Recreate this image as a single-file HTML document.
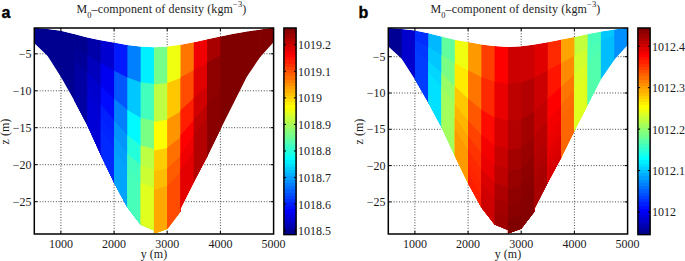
<!DOCTYPE html>
<html><head><meta charset="utf-8"><title>M0-component of density</title>
<style>
html,body{margin:0;padding:0;background:#fff;}
body{width:685px;height:261px;overflow:hidden;}
svg{display:block;}
.t{font-family:"Liberation Serif","Times New Roman",serif;font-size:12px;fill:#1c1c1c;}
.b{font-family:"Liberation Sans",Arial,sans-serif;font-weight:bold;font-size:16px;fill:#000;stroke:#000;stroke-width:0.35px;}
</style></head><body>
<svg width="685" height="261" viewBox="0 0 685 261">
<defs><linearGradient id="jet" x1="0" y1="1" x2="0" y2="0"><stop offset="0.00000" stop-color="#00008f"/><stop offset="0.01562" stop-color="#00008f"/><stop offset="0.01562" stop-color="#00009f"/><stop offset="0.03125" stop-color="#00009f"/><stop offset="0.03125" stop-color="#0000af"/><stop offset="0.04688" stop-color="#0000af"/><stop offset="0.04688" stop-color="#0000bf"/><stop offset="0.06250" stop-color="#0000bf"/><stop offset="0.06250" stop-color="#0000cf"/><stop offset="0.07812" stop-color="#0000cf"/><stop offset="0.07812" stop-color="#0000df"/><stop offset="0.09375" stop-color="#0000df"/><stop offset="0.09375" stop-color="#0000ef"/><stop offset="0.10938" stop-color="#0000ef"/><stop offset="0.10938" stop-color="#0000ff"/><stop offset="0.12500" stop-color="#0000ff"/><stop offset="0.12500" stop-color="#0010ff"/><stop offset="0.14062" stop-color="#0010ff"/><stop offset="0.14062" stop-color="#0020ff"/><stop offset="0.15625" stop-color="#0020ff"/><stop offset="0.15625" stop-color="#0030ff"/><stop offset="0.17188" stop-color="#0030ff"/><stop offset="0.17188" stop-color="#0040ff"/><stop offset="0.18750" stop-color="#0040ff"/><stop offset="0.18750" stop-color="#0050ff"/><stop offset="0.20312" stop-color="#0050ff"/><stop offset="0.20312" stop-color="#0060ff"/><stop offset="0.21875" stop-color="#0060ff"/><stop offset="0.21875" stop-color="#0070ff"/><stop offset="0.23438" stop-color="#0070ff"/><stop offset="0.23438" stop-color="#0080ff"/><stop offset="0.25000" stop-color="#0080ff"/><stop offset="0.25000" stop-color="#008fff"/><stop offset="0.26562" stop-color="#008fff"/><stop offset="0.26562" stop-color="#009fff"/><stop offset="0.28125" stop-color="#009fff"/><stop offset="0.28125" stop-color="#00afff"/><stop offset="0.29688" stop-color="#00afff"/><stop offset="0.29688" stop-color="#00bfff"/><stop offset="0.31250" stop-color="#00bfff"/><stop offset="0.31250" stop-color="#00cfff"/><stop offset="0.32812" stop-color="#00cfff"/><stop offset="0.32812" stop-color="#00dfff"/><stop offset="0.34375" stop-color="#00dfff"/><stop offset="0.34375" stop-color="#00efff"/><stop offset="0.35938" stop-color="#00efff"/><stop offset="0.35938" stop-color="#00ffff"/><stop offset="0.37500" stop-color="#00ffff"/><stop offset="0.37500" stop-color="#10ffef"/><stop offset="0.39062" stop-color="#10ffef"/><stop offset="0.39062" stop-color="#20ffdf"/><stop offset="0.40625" stop-color="#20ffdf"/><stop offset="0.40625" stop-color="#30ffcf"/><stop offset="0.42188" stop-color="#30ffcf"/><stop offset="0.42188" stop-color="#40ffbf"/><stop offset="0.43750" stop-color="#40ffbf"/><stop offset="0.43750" stop-color="#50ffaf"/><stop offset="0.45312" stop-color="#50ffaf"/><stop offset="0.45312" stop-color="#60ff9f"/><stop offset="0.46875" stop-color="#60ff9f"/><stop offset="0.46875" stop-color="#70ff8f"/><stop offset="0.48438" stop-color="#70ff8f"/><stop offset="0.48438" stop-color="#80ff80"/><stop offset="0.50000" stop-color="#80ff80"/><stop offset="0.50000" stop-color="#8fff70"/><stop offset="0.51562" stop-color="#8fff70"/><stop offset="0.51562" stop-color="#9fff60"/><stop offset="0.53125" stop-color="#9fff60"/><stop offset="0.53125" stop-color="#afff50"/><stop offset="0.54688" stop-color="#afff50"/><stop offset="0.54688" stop-color="#bfff40"/><stop offset="0.56250" stop-color="#bfff40"/><stop offset="0.56250" stop-color="#cfff30"/><stop offset="0.57812" stop-color="#cfff30"/><stop offset="0.57812" stop-color="#dfff20"/><stop offset="0.59375" stop-color="#dfff20"/><stop offset="0.59375" stop-color="#efff10"/><stop offset="0.60938" stop-color="#efff10"/><stop offset="0.60938" stop-color="#ffff00"/><stop offset="0.62500" stop-color="#ffff00"/><stop offset="0.62500" stop-color="#ffef00"/><stop offset="0.64062" stop-color="#ffef00"/><stop offset="0.64062" stop-color="#ffdf00"/><stop offset="0.65625" stop-color="#ffdf00"/><stop offset="0.65625" stop-color="#ffcf00"/><stop offset="0.67188" stop-color="#ffcf00"/><stop offset="0.67188" stop-color="#ffbf00"/><stop offset="0.68750" stop-color="#ffbf00"/><stop offset="0.68750" stop-color="#ffaf00"/><stop offset="0.70312" stop-color="#ffaf00"/><stop offset="0.70312" stop-color="#ff9f00"/><stop offset="0.71875" stop-color="#ff9f00"/><stop offset="0.71875" stop-color="#ff8f00"/><stop offset="0.73438" stop-color="#ff8f00"/><stop offset="0.73438" stop-color="#ff8000"/><stop offset="0.75000" stop-color="#ff8000"/><stop offset="0.75000" stop-color="#ff7000"/><stop offset="0.76562" stop-color="#ff7000"/><stop offset="0.76562" stop-color="#ff6000"/><stop offset="0.78125" stop-color="#ff6000"/><stop offset="0.78125" stop-color="#ff5000"/><stop offset="0.79688" stop-color="#ff5000"/><stop offset="0.79688" stop-color="#ff4000"/><stop offset="0.81250" stop-color="#ff4000"/><stop offset="0.81250" stop-color="#ff3000"/><stop offset="0.82812" stop-color="#ff3000"/><stop offset="0.82812" stop-color="#ff2000"/><stop offset="0.84375" stop-color="#ff2000"/><stop offset="0.84375" stop-color="#ff1000"/><stop offset="0.85938" stop-color="#ff1000"/><stop offset="0.85938" stop-color="#ff0000"/><stop offset="0.87500" stop-color="#ff0000"/><stop offset="0.87500" stop-color="#ef0000"/><stop offset="0.89062" stop-color="#ef0000"/><stop offset="0.89062" stop-color="#df0000"/><stop offset="0.90625" stop-color="#df0000"/><stop offset="0.90625" stop-color="#cf0000"/><stop offset="0.92188" stop-color="#cf0000"/><stop offset="0.92188" stop-color="#bf0000"/><stop offset="0.93750" stop-color="#bf0000"/><stop offset="0.93750" stop-color="#af0000"/><stop offset="0.95312" stop-color="#af0000"/><stop offset="0.95312" stop-color="#9f0000"/><stop offset="0.96875" stop-color="#9f0000"/><stop offset="0.96875" stop-color="#8f0000"/><stop offset="0.98438" stop-color="#8f0000"/><stop offset="0.98438" stop-color="#800000"/><stop offset="1.00000" stop-color="#800000"/></linearGradient></defs>
<rect width="685" height="261" fill="#fff"/>
<g stroke="#111" stroke-width="0.85" stroke-dasharray="0.9 1.8" fill="none"><line x1="60.90" y1="28.0" x2="60.90" y2="234.0"/><line x1="114.10" y1="28.0" x2="114.10" y2="234.0"/><line x1="167.20" y1="28.0" x2="167.20" y2="234.0"/><line x1="220.40" y1="28.0" x2="220.40" y2="234.0"/><line x1="34.3" y1="53.80" x2="273.6" y2="53.80"/><line x1="34.3" y1="90.80" x2="273.6" y2="90.80"/><line x1="34.3" y1="127.70" x2="273.6" y2="127.70"/><line x1="34.3" y1="164.70" x2="273.6" y2="164.70"/><line x1="34.3" y1="201.70" x2="273.6" y2="201.70"/></g>
<g stroke="#111" stroke-width="0.85" stroke-dasharray="0.9 1.8" fill="none"><line x1="414.90" y1="28.0" x2="414.90" y2="234.0"/><line x1="468.10" y1="28.0" x2="468.10" y2="234.0"/><line x1="521.20" y1="28.0" x2="521.20" y2="234.0"/><line x1="574.40" y1="28.0" x2="574.40" y2="234.0"/><line x1="388.3" y1="56.70" x2="627.6" y2="56.70"/><line x1="388.3" y1="93.00" x2="627.6" y2="93.00"/><line x1="388.3" y1="129.30" x2="627.6" y2="129.30"/><line x1="388.3" y1="165.60" x2="627.6" y2="165.60"/><line x1="388.3" y1="201.90" x2="627.6" y2="201.90"/></g>
<clipPath id="ca"><polygon points="34.40,27.80 47.68,29.00 60.97,30.70 74.25,34.00 87.53,37.50 100.81,40.30 114.10,42.60 127.38,45.00 140.66,46.60 153.95,47.30 167.23,46.60 180.51,44.70 193.80,42.20 207.08,39.30 220.36,36.50 233.65,33.70 246.93,31.40 260.21,29.50 273.49,27.60 273.49,42.20 260.21,57.00 260.21,57.00 246.93,76.50 246.93,76.50 233.65,103.00 233.65,103.00 220.36,129.50 220.36,129.50 207.08,156.80 207.08,156.80 193.80,182.00 193.80,182.00 180.51,208.50 180.51,211.50 167.23,229.00 167.23,229.00 153.95,233.80 153.95,230.40 140.66,224.80 140.66,224.80 127.38,207.50 127.38,207.50 114.10,182.80 114.10,182.80 100.81,155.00 100.81,155.00 87.53,125.70 87.53,125.70 74.25,100.50 74.25,100.50 60.97,77.00 60.97,77.00 47.68,56.00 47.68,56.00 34.40,43.30"/></clipPath>
<g clip-path="url(#ca)">
<polygon fill="#000090" points="34.40,27.80 48.38,29.06 48.38,240 34.40,240"/>
<polygon fill="#000090" points="47.68,29.00 61.67,30.79 61.67,240 47.68,240"/>
<polygon fill="#000090" points="60.97,30.70 74.95,34.17 74.95,240 60.97,240"/>
<polygon fill="#000090" points="74.25,34.00 88.23,37.68 88.23,240 74.25,240"/>
<polygon fill="#000099" points="74.25,47.30 88.23,55.55 88.23,240 74.25,240"/>
<polygon fill="#0000a3" points="74.25,60.60 88.23,73.42 88.23,240 74.25,240"/>
<polygon fill="#0000a8" points="87.53,37.50 101.52,40.45 101.52,240 87.53,240"/>
<polygon fill="#0000bd" points="87.53,55.14 101.52,63.67 101.52,240 87.53,240"/>
<polygon fill="#0000cc" points="87.53,72.78 101.52,86.89 101.52,240 87.53,240"/>
<polygon fill="#0000d1" points="87.53,86.45 101.52,104.88 101.52,240 87.53,240"/>
<polygon fill="#0000d6" points="87.53,96.33 101.52,117.88 101.52,240 87.53,240"/>
<polygon fill="#0000d1" points="100.81,40.30 114.80,42.72 114.80,240 100.81,240"/>
<polygon fill="#0000f0" points="100.81,63.24 114.80,71.03 114.80,240 100.81,240"/>
<polygon fill="#000aff" points="100.81,86.18 114.80,99.34 114.80,240 100.81,240"/>
<polygon fill="#001fff" points="100.81,103.96 114.80,121.28 114.80,240 100.81,240"/>
<polygon fill="#0024ff" points="100.81,116.80 114.80,137.13 114.80,240 100.81,240"/>
<polygon fill="#0029ff" points="100.81,128.05 114.80,151.00 114.80,240 100.81,240"/>
<polygon fill="#0019ff" points="114.10,42.60 128.08,45.13 128.08,240 114.10,240"/>
<polygon fill="#0057ff" points="114.10,70.64 128.08,77.86 128.08,240 114.10,240"/>
<polygon fill="#0080ff" points="114.10,98.68 128.08,110.60 128.08,240 114.10,240"/>
<polygon fill="#0094ff" points="114.10,120.41 128.08,135.97 128.08,240 114.10,240"/>
<polygon fill="#009eff" points="114.10,136.11 128.08,154.30 128.08,240 114.10,240"/>
<polygon fill="#00a3ff" points="114.10,149.85 128.08,170.34 128.08,240 114.10,240"/>
<polygon fill="#0080ff" points="127.38,45.00 141.36,46.68 141.36,240 127.38,240"/>
<polygon fill="#00c7ff" points="127.38,77.50 141.36,82.49 141.36,240 127.38,240"/>
<polygon fill="#00faff" points="127.38,110.00 141.36,118.30 141.36,240 127.38,240"/>
<polygon fill="#24ffdb" points="127.38,135.19 141.36,146.04 141.36,240 127.38,240"/>
<polygon fill="#42ffbd" points="127.38,153.39 141.36,166.10 141.36,240 127.38,240"/>
<polygon fill="#47ffb8" points="127.38,169.31 141.36,183.64 141.36,240 127.38,240"/>
<polygon fill="#00f0ff" points="140.66,46.60 154.65,47.34 154.65,240 140.66,240"/>
<polygon fill="#42ffbd" points="140.66,82.24 154.65,84.01 154.65,240 140.66,240"/>
<polygon fill="#7aff85" points="140.66,117.88 154.65,120.68 154.65,240 140.66,240"/>
<polygon fill="#bdff42" points="140.66,145.50 154.65,149.10 154.65,240 140.66,240"/>
<polygon fill="#ccff33" points="140.66,165.46 154.65,169.64 154.65,240 140.66,240"/>
<polygon fill="#e0ff1f" points="140.66,182.92 154.65,187.61 154.65,240 140.66,240"/>
<polygon fill="#75ff8a" points="153.95,47.30 167.93,46.56 167.93,240 153.95,240"/>
<polygon fill="#bdff42" points="153.95,84.60 167.93,83.00 167.93,240 153.95,240"/>
<polygon fill="#ffff00" points="153.95,121.90 167.93,119.44 167.93,240 153.95,240"/>
<polygon fill="#ffcc00" points="153.95,150.81 167.93,147.68 167.93,240 153.95,240"/>
<polygon fill="#ffbd00" points="153.95,171.70 167.93,168.08 167.93,240 153.95,240"/>
<polygon fill="#ffa800" points="153.95,189.97 167.93,185.93 167.93,240 153.95,240"/>
<polygon fill="#f0ff0f" points="167.23,46.60 181.21,44.60 181.21,240 167.23,240"/>
<polygon fill="#ffc700" points="167.23,83.08 181.21,77.80 181.21,240 167.23,240"/>
<polygon fill="#ff9400" points="167.23,119.56 181.21,110.99 181.21,240 167.23,240"/>
<polygon fill="#ff7000" points="167.23,147.83 181.21,136.72 181.21,240 167.23,240"/>
<polygon fill="#ff5c00" points="167.23,168.26 181.21,155.31 181.21,240 167.23,240"/>
<polygon fill="#ff4c00" points="167.23,186.14 181.21,171.57 181.21,240 167.23,240"/>
<polygon fill="#ff7500" points="180.51,44.70 194.50,42.07 194.50,240 180.51,240"/>
<polygon fill="#ff4c00" points="180.51,77.46 194.50,69.78 194.50,240 180.51,240"/>
<polygon fill="#ff1f00" points="180.51,110.22 194.50,97.48 194.50,240 180.51,240"/>
<polygon fill="#ff0000" points="180.51,135.61 194.50,118.96 194.50,240 180.51,240"/>
<polygon fill="#f00000" points="180.51,153.95 194.50,134.47 194.50,240 180.51,240"/>
<polygon fill="#e50000" points="180.51,170.01 194.50,148.05 194.50,240 180.51,240"/>
<polygon fill="#f00000" points="193.80,42.20 207.78,39.15 207.78,240 193.80,240"/>
<polygon fill="#e00000" points="193.80,70.16 207.78,62.41 207.78,240 193.80,240"/>
<polygon fill="#d10000" points="193.80,98.12 207.78,85.68 207.78,240 193.80,240"/>
<polygon fill="#bd0000" points="193.80,119.79 207.78,103.71 207.78,240 193.80,240"/>
<polygon fill="#b30000" points="193.80,135.45 207.78,116.74 207.78,240 193.80,240"/>
<polygon fill="#a80000" points="207.08,39.30 221.06,36.35 221.06,240 207.08,240"/>
<polygon fill="#8f0000" points="207.08,62.80 221.06,54.69 221.06,240 207.08,240"/>
<polygon fill="#8a0000" points="207.08,104.51 221.06,87.25 221.06,240 207.08,240"/>
<polygon fill="#800000" points="220.36,36.50 234.34,33.55 234.34,240 220.36,240"/>
<polygon fill="#800000" points="233.65,33.70 247.63,31.28 247.63,240 233.65,240"/>
<polygon fill="#800000" points="246.93,31.40 260.91,29.40 260.91,240 246.93,240"/>
<polygon fill="#800000" points="260.21,29.50 274.19,27.50 274.19,240 260.21,240"/>
</g>
<clipPath id="cb"><polygon points="388.40,27.80 401.68,29.00 414.97,30.50 428.25,33.20 441.53,36.60 454.81,39.70 468.10,42.10 481.38,44.40 494.66,46.10 507.95,46.90 521.23,46.30 534.51,44.60 547.80,42.20 561.08,39.60 574.36,36.90 587.64,34.10 600.93,31.60 614.21,29.50 627.49,27.60 627.49,45.31 614.21,59.84 614.21,59.84 600.93,78.98 600.93,78.98 587.64,105.00 587.64,105.00 574.36,131.01 574.36,131.01 561.08,157.82 561.08,157.82 547.80,182.55 547.80,182.55 534.51,208.60 534.51,211.51 521.23,228.69 521.23,228.69 507.95,233.40 507.95,230.10 494.66,224.57 494.66,224.57 481.38,207.59 481.38,207.59 468.10,183.34 468.10,183.34 454.81,156.05 454.81,156.05 441.53,127.28 441.53,127.28 428.25,102.55 428.25,102.55 414.97,79.48 414.97,79.48 401.68,58.86 401.68,58.86 388.40,46.39"/></clipPath>
<g clip-path="url(#cb)">
<polygon fill="#000094" points="388.40,27.80 402.38,29.06 402.38,240 388.40,240"/>
<polygon fill="#0000cc" points="401.68,29.00 415.67,30.58 415.67,240 401.68,240"/>
<polygon fill="#002eff" points="414.97,30.50 428.95,33.34 428.95,240 414.97,240"/>
<polygon fill="#0038ff" points="414.97,40.30 428.95,47.43 428.95,240 414.97,240"/>
<polygon fill="#003dff" points="414.97,50.09 428.95,61.51 428.95,240 414.97,240"/>
<polygon fill="#00b8ff" points="428.25,33.20 442.23,36.78 442.23,240 428.25,240"/>
<polygon fill="#00c7ff" points="428.25,47.07 442.23,55.14 442.23,240 428.25,240"/>
<polygon fill="#00d6ff" points="428.25,60.94 442.23,73.50 442.23,240 428.25,240"/>
<polygon fill="#00e0ff" points="428.25,71.69 442.23,87.73 442.23,240 428.25,240"/>
<polygon fill="#61ff9e" points="441.53,36.60 455.51,39.86 455.51,240 441.53,240"/>
<polygon fill="#7aff85" points="441.53,54.74 455.51,63.40 455.51,240 441.53,240"/>
<polygon fill="#99ff66" points="441.53,72.87 455.51,86.94 455.51,240 441.53,240"/>
<polygon fill="#a3ff5c" points="441.53,86.93 455.51,105.19 455.51,240 441.53,240"/>
<polygon fill="#f0ff0f" points="454.81,39.70 468.80,42.23 468.80,240 454.81,240"/>
<polygon fill="#ffeb00" points="454.81,62.97 468.80,70.74 468.80,240 454.81,240"/>
<polygon fill="#ffc700" points="454.81,86.24 468.80,99.25 468.80,240 454.81,240"/>
<polygon fill="#ffb500" points="454.81,104.27 468.80,121.34 468.80,240 454.81,240"/>
<polygon fill="#ffa600" points="454.81,117.30 468.80,137.31 468.80,240 454.81,240"/>
<polygon fill="#ff9900" points="454.81,128.71 468.80,151.28 468.80,240 454.81,240"/>
<polygon fill="#ff9900" points="468.10,42.10 482.08,44.52 482.08,240 468.10,240"/>
<polygon fill="#ff7500" points="468.10,70.35 482.08,77.39 482.08,240 468.10,240"/>
<polygon fill="#ff5700" points="468.10,98.60 482.08,110.26 482.08,240 468.10,240"/>
<polygon fill="#ff4200" points="468.10,120.49 482.08,135.73 482.08,240 468.10,240"/>
<polygon fill="#ff3300" points="468.10,136.31 482.08,154.14 482.08,240 468.10,240"/>
<polygon fill="#ff2900" points="468.10,150.15 482.08,170.24 482.08,240 468.10,240"/>
<polygon fill="#ff2400" points="468.10,162.15 482.08,184.21 482.08,240 468.10,240"/>
<polygon fill="#ff1f00" points="468.10,172.75 482.08,196.54 482.08,240 468.10,240"/>
<polygon fill="#ff3d00" points="481.38,44.40 495.36,46.19 495.36,240 481.38,240"/>
<polygon fill="#ff2900" points="481.38,77.04 495.36,82.04 495.36,240 481.38,240"/>
<polygon fill="#ff0a00" points="481.38,109.67 495.36,117.90 495.36,240 481.38,240"/>
<polygon fill="#f50000" points="481.38,134.97 495.36,145.69 495.36,240 481.38,240"/>
<polygon fill="#eb0000" points="481.38,153.25 495.36,165.77 495.36,240 481.38,240"/>
<polygon fill="#db0000" points="481.38,169.24 495.36,183.34 495.36,240 481.38,240"/>
<polygon fill="#d10000" points="481.38,183.11 495.36,198.57 495.36,240 481.38,240"/>
<polygon fill="#cc0000" points="481.38,195.35 495.36,212.02 495.36,240 481.38,240"/>
<polygon fill="#ff0000" points="494.66,46.10 508.65,46.94 508.65,240 494.66,240"/>
<polygon fill="#eb0000" points="494.66,81.79 508.65,83.63 508.65,240 494.66,240"/>
<polygon fill="#d60000" points="494.66,117.49 508.65,120.32 508.65,240 494.66,240"/>
<polygon fill="#c70000" points="494.66,145.15 508.65,148.76 508.65,240 494.66,240"/>
<polygon fill="#bd0000" points="494.66,165.14 508.65,169.30 508.65,240 494.66,240"/>
<polygon fill="#af0000" points="494.66,182.63 508.65,187.28 508.65,240 494.66,240"/>
<polygon fill="#a50000" points="494.66,197.80 508.65,202.87 508.65,240 494.66,240"/>
<polygon fill="#9e0000" points="494.66,211.19 508.65,216.63 508.65,240 494.66,240"/>
<polygon fill="#cc0000" points="507.95,46.90 521.93,46.27 521.93,240 507.95,240"/>
<polygon fill="#bd0000" points="507.95,84.20 521.93,82.70 521.93,240 507.95,240"/>
<polygon fill="#b30000" points="507.95,121.50 521.93,119.14 521.93,240 507.95,240"/>
<polygon fill="#a30000" points="507.95,150.41 521.93,147.38 521.93,240 507.95,240"/>
<polygon fill="#990000" points="507.95,171.30 521.93,167.78 521.93,240 507.95,240"/>
<polygon fill="#8f0000" points="507.95,189.57 521.93,185.63 521.93,240 507.95,240"/>
<polygon fill="#8a0000" points="507.95,205.43 521.93,201.12 521.93,240 507.95,240"/>
<polygon fill="#800000" points="507.95,219.41 521.93,214.78 521.93,240 507.95,240"/>
<polygon fill="#cc0000" points="521.23,46.30 535.21,44.51 535.21,240 521.23,240"/>
<polygon fill="#b30000" points="521.23,82.78 535.21,77.73 535.21,240 521.23,240"/>
<polygon fill="#a30000" points="521.23,119.26 535.21,110.95 535.21,240 521.23,240"/>
<polygon fill="#990000" points="521.23,147.53 535.21,136.69 535.21,240 521.23,240"/>
<polygon fill="#8f0000" points="521.23,167.96 535.21,155.30 535.21,240 521.23,240"/>
<polygon fill="#8a0000" points="521.23,185.83 535.21,171.58 535.21,240 521.23,240"/>
<polygon fill="#850000" points="521.23,201.33 535.21,185.69 535.21,240 521.23,240"/>
<polygon fill="#e00000" points="534.51,44.60 548.50,42.07 548.50,240 534.51,240"/>
<polygon fill="#cc0000" points="534.51,77.40 548.50,69.90 548.50,240 534.51,240"/>
<polygon fill="#c20000" points="534.51,110.20 548.50,97.72 548.50,240 534.51,240"/>
<polygon fill="#b80000" points="534.51,135.62 548.50,119.28 548.50,240 534.51,240"/>
<polygon fill="#b30000" points="534.51,153.99 548.50,134.86 548.50,240 534.51,240"/>
<polygon fill="#ad0000" points="534.51,170.06 548.50,148.49 548.50,240 534.51,240"/>
<polygon fill="#a80000" points="534.51,184.00 548.50,160.32 548.50,240 534.51,240"/>
<polygon fill="#ff2900" points="547.80,42.20 561.78,39.46 561.78,240 547.80,240"/>
<polygon fill="#ff1400" points="547.80,70.27 561.78,62.87 561.78,240 547.80,240"/>
<polygon fill="#ff0000" points="547.80,98.34 561.78,86.28 561.78,240 547.80,240"/>
<polygon fill="#f50000" points="547.80,120.10 561.78,104.42 561.78,240 547.80,240"/>
<polygon fill="#ed0000" points="547.80,135.82 561.78,117.53 561.78,240 547.80,240"/>
<polygon fill="#e50000" points="547.80,149.57 561.78,129.01 561.78,240 547.80,240"/>
<polygon fill="#dd0000" points="547.80,161.50 561.78,138.95 561.78,240 547.80,240"/>
<polygon fill="#d60000" points="547.80,172.03 561.78,147.73 561.78,240 547.80,240"/>
<polygon fill="#ffa300" points="561.08,39.60 575.06,36.76 575.06,240 561.08,240"/>
<polygon fill="#ff8a00" points="561.08,63.24 575.06,55.33 575.06,240 561.08,240"/>
<polygon fill="#ff7500" points="561.08,86.89 575.06,73.90 575.06,240 561.08,240"/>
<polygon fill="#ff6b00" points="561.08,105.21 575.06,88.29 575.06,240 561.08,240"/>
<polygon fill="#ff6600" points="561.08,118.45 575.06,98.69 575.06,240 561.08,240"/>
<polygon fill="#c2ff3d" points="574.36,36.90 588.35,33.95 588.35,240 574.36,240"/>
<polygon fill="#d1ff2e" points="574.36,55.72 588.35,47.89 588.35,240 574.36,240"/>
<polygon fill="#dbff24" points="574.36,74.55 588.35,61.82 588.35,240 574.36,240"/>
<polygon fill="#e0ff1f" points="574.36,89.13 588.35,72.62 588.35,240 574.36,240"/>
<polygon fill="#47ffb8" points="587.64,34.10 601.63,31.47 601.63,240 587.64,240"/>
<polygon fill="#4dffb2" points="587.64,48.28 601.63,40.70 601.63,240 587.64,240"/>
<polygon fill="#52ffad" points="587.64,62.46 601.63,49.93 601.63,240 587.64,240"/>
<polygon fill="#00c7ff" points="600.93,31.60 614.91,29.39 614.91,240 600.93,240"/>
<polygon fill="#00bdff" points="600.93,41.08 614.91,35.28 614.91,240 600.93,240"/>
<polygon fill="#008fff" points="614.21,29.50 628.19,27.50 628.19,240 614.21,240"/>
</g>
<rect x="34.30" y="28.00" width="239.30" height="206.00" fill="none" stroke="#000" stroke-width="1.5"/>
<path d="M60.90 234.00v-3M60.90 28.00v3M114.10 234.00v-3M114.10 28.00v3M167.20 234.00v-3M167.20 28.00v3M220.40 234.00v-3M220.40 28.00v3M34.30 53.80h3M273.60 53.80h-3M34.30 90.80h3M273.60 90.80h-3M34.30 127.70h3M273.60 127.70h-3M34.30 164.70h3M273.60 164.70h-3M34.30 201.70h3M273.60 201.70h-3" stroke="#000" stroke-width="1" fill="none"/>
<g class="t" text-anchor="middle">
<text x="60.9" y="247.5">1000</text>
<text x="114.1" y="247.5">2000</text>
<text x="167.2" y="247.5">3000</text>
<text x="220.4" y="247.5">4000</text>
<text x="273.6" y="247.5">5000</text>
<text x="154.0" y="258.2">y (m)</text>
</g>
<g class="t" text-anchor="end">
<text x="31.6" y="57.8">−5</text>
<text x="31.6" y="94.8">−10</text>
<text x="31.6" y="131.7">−15</text>
<text x="31.6" y="168.7">−20</text>
<text x="31.6" y="205.7">−25</text>
</g>
<text class="t" text-anchor="middle" transform="translate(9.2,131.6) rotate(-90)">z (m)</text>
<text class="t" style="letter-spacing:0.12px" x="76.4" y="12.6">M<tspan font-size="8.5" dy="5.5">0</tspan><tspan dy="-5.5">–component of density (kgm</tspan><tspan font-size="8.5" dy="-5.6">−3</tspan><tspan dy="5.6">)</tspan></text>
<text class="b" x="1.5" y="17.9">a</text>
<rect x="283.90" y="28.00" width="12.20" height="206.60" fill="url(#jet)" stroke="#000" stroke-width="1.5"/>
<path d="M283.90 44.70h2.2M296.10 44.70h-2.2M283.90 71.27h2.2M296.10 71.27h-2.2M283.90 97.84h2.2M296.10 97.84h-2.2M283.90 124.41h2.2M296.10 124.41h-2.2M283.90 150.98h2.2M296.10 150.98h-2.2M283.90 177.55h2.2M296.10 177.55h-2.2M283.90 204.12h2.2M296.10 204.12h-2.2M283.90 230.69h2.2M296.10 230.69h-2.2" stroke="#000" stroke-width="1" fill="none"/>
<g class="t">
<text x="297.9" y="49.1">1019.2</text>
<text x="297.9" y="75.7">1019.1</text>
<text x="297.9" y="102.2">1019</text>
<text x="297.9" y="128.8">1018.9</text>
<text x="297.9" y="155.4">1018.8</text>
<text x="297.9" y="182.0">1018.7</text>
<text x="297.9" y="208.5">1018.6</text>
<text x="297.9" y="235.1">1018.5</text>
</g>
<rect x="388.30" y="28.00" width="239.30" height="206.00" fill="none" stroke="#000" stroke-width="1.5"/>
<path d="M414.90 234.00v-3M414.90 28.00v3M468.10 234.00v-3M468.10 28.00v3M521.20 234.00v-3M521.20 28.00v3M574.40 234.00v-3M574.40 28.00v3M388.30 56.70h3M627.60 56.70h-3M388.30 93.00h3M627.60 93.00h-3M388.30 129.30h3M627.60 129.30h-3M388.30 165.60h3M627.60 165.60h-3M388.30 201.90h3M627.60 201.90h-3" stroke="#000" stroke-width="1" fill="none"/>
<g class="t" text-anchor="middle">
<text x="414.9" y="247.5">1000</text>
<text x="468.1" y="247.5">2000</text>
<text x="521.2" y="247.5">3000</text>
<text x="574.4" y="247.5">4000</text>
<text x="627.6" y="247.5">5000</text>
<text x="508.0" y="258.2">y (m)</text>
</g>
<g class="t" text-anchor="end">
<text x="385.6" y="60.7">−5</text>
<text x="385.6" y="97.0">−10</text>
<text x="385.6" y="133.3">−15</text>
<text x="385.6" y="169.6">−20</text>
<text x="385.6" y="205.9">−25</text>
</g>
<text class="t" text-anchor="middle" transform="translate(363.2,131.6) rotate(-90)">z (m)</text>
<text class="t" style="letter-spacing:0.12px" x="430.4" y="12.6">M<tspan font-size="8.5" dy="5.5">0</tspan><tspan dy="-5.5">–component of density (kgm</tspan><tspan font-size="8.5" dy="-5.6">−3</tspan><tspan dy="5.6">)</tspan></text>
<text class="b" x="358.6" y="17.9">b</text>
<rect x="637.90" y="28.00" width="12.20" height="206.60" fill="url(#jet)" stroke="#000" stroke-width="1.5"/>
<path d="M637.90 46.20h2.2M650.10 46.20h-2.2M637.90 87.65h2.2M650.10 87.65h-2.2M637.90 129.10h2.2M650.10 129.10h-2.2M637.90 170.55h2.2M650.10 170.55h-2.2M637.90 212.00h2.2M650.10 212.00h-2.2" stroke="#000" stroke-width="1" fill="none"/>
<g class="t">
<text x="651.9" y="50.6">1012.4</text>
<text x="651.9" y="92.1">1012.3</text>
<text x="651.9" y="133.5">1012.2</text>
<text x="651.9" y="175.0">1012.1</text>
<text x="651.9" y="216.4">1012</text>
</g>
</svg>
</body></html>
